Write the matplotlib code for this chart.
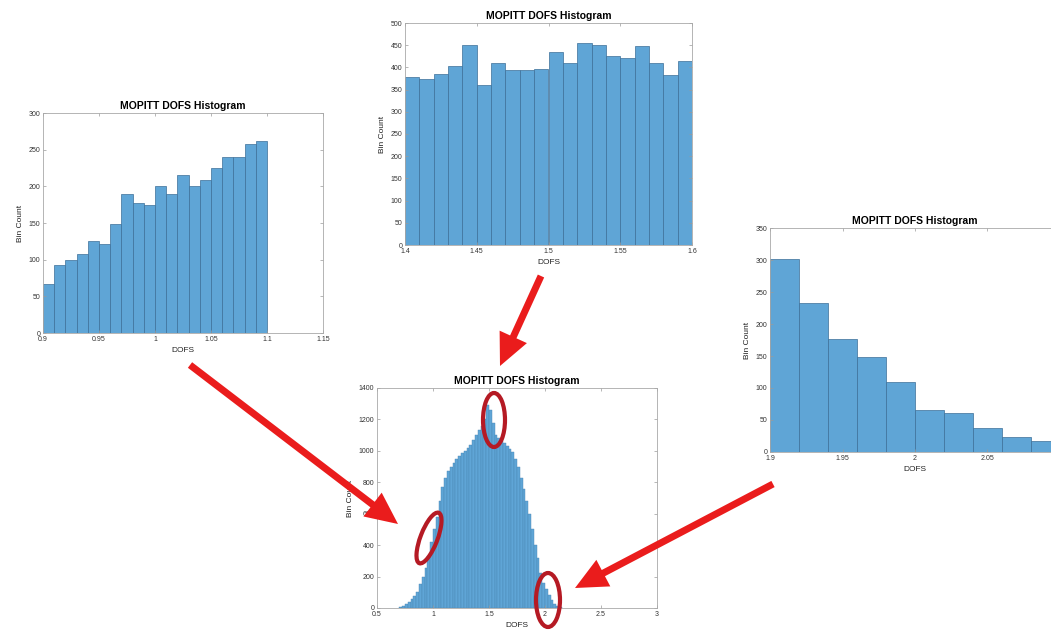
import numpy as np
import matplotlib
matplotlib.use("Agg")
from matplotlib import pyplot as plt
from matplotlib.patches import FancyArrow, Ellipse
from matplotlib.ticker import FuncFormatter

plt.rcParams['font.family'] = ['Liberation Sans', 'DejaVu Sans']

# zoom on the low end, 0.01 bins from 0.9
low_start = 0.9
low_width = 0.01
low_counts = [67, 93, 100, 108, 126, 122, 148, 190, 177, 175,
              200, 190, 216, 200, 209, 225, 240, 240, 258, 262]

# zoom on the peak, 0.01 bins from 1.4
mid_start = 1.4
mid_width = 0.01
mid_counts = [378, 373, 385, 403, 451, 361, 411, 394, 394, 397,
              435, 409, 454, 450, 425, 422, 448, 411, 382, 415]

# zoom on the high tail, 0.02 bins from 1.9
high_start = 1.9
high_width = 0.02
high_counts = [302, 233, 177, 149, 109, 65, 61, 38, 23, 17]

# full distribution, 0.025 bins from 0.7
all_start = 0.7
all_width = 0.025
all_counts = [5, 15, 25, 40, 55, 75, 105, 150, 200, 255,
              330, 420, 500, 580, 680, 770, 830, 870, 900, 925,
              950, 965, 985, 1000, 1020, 1040, 1070, 1100, 1130, 1160,
              1200, 1290, 1260, 1180, 1100, 1080, 1065, 1050, 1030, 1010,
              990, 950, 900, 830, 760, 680, 600, 500, 400, 320,
              220, 160, 120, 85, 50, 25, 12, 5]

# callouts in pixel space (x, y from top-left)
arrows = [((190, 365), (398, 524)),
          ((541, 276), (500, 366)),
          ((773, 484), (575, 588))]
circles = [((494, 420), 22, 54, 0),
           ((429, 538), 17, 54, 21),
           ((548, 600), 24, 54, 0)]

bar_color = '#5fa5d6'
edge_color = '#3c6f98'
title_txt = 'MOPITT DOFS Histogram'

W, H = 1051, 635
fig = plt.figure(figsize=(W / 100, H / 100), dpi=100)


def fmt(v, pos):
    return '%g' % round(v, 4)


def hist_panel(rect, start, width, counts, xlim, xticks, ylim, yticks,
               ec=edge_color, elw=0.5):
    ax = fig.add_axes(rect)
    edges = start + width * np.arange(len(counts))
    ax.bar(edges, counts, width=width, align='edge', color=bar_color,
           edgecolor=ec, linewidth=elw)
    ax.set_xlim(xlim)
    ax.set_ylim(ylim)
    ax.set_xticks(xticks)
    ax.set_yticks(yticks)
    ax.xaxis.set_major_formatter(FuncFormatter(fmt))
    ax.yaxis.set_major_formatter(FuncFormatter(fmt))
    ax.tick_params(direction='in', length=2.5, width=0.5, labelsize=5,
                   colors='#9a9a9a', labelcolor='#333333', pad=2,
                   top=True, right=True)
    for s in ax.spines.values():
        s.set_color('#a8a8a8')
        s.set_linewidth(0.6)
    ax.set_title(title_txt, fontsize=7.5, fontweight='bold', pad=3)
    ax.set_xlabel('DOFS', fontsize=6, labelpad=3, color='#222222')
    ax.set_ylabel('Bin Count', fontsize=6, labelpad=3, color='#222222')
    return ax


def px_rect(left, top, right, bottom):
    return [left / W, 1 - bottom / H, (right - left) / W, (bottom - top) / H]


hist_panel(px_rect(43, 113, 323, 333), low_start, low_width, low_counts,
           (0.9, 1.15), np.arange(0.9, 1.151, 0.05), (0, 300), range(0, 301, 50))
hist_panel(px_rect(405, 23, 692, 245), mid_start, mid_width, mid_counts,
           (1.4, 1.6), np.arange(1.4, 1.601, 0.05), (0, 500), range(0, 501, 50))
hist_panel(px_rect(770, 228, 1060, 452), high_start, high_width, high_counts,
           (1.9, 2.1), np.arange(1.9, 2.101, 0.05), (0, 350), range(0, 351, 50))
# full histogram: narrow bins, so keep the bar outlines faint
hist_panel(px_rect(377, 388, 657, 608), all_start, all_width, all_counts,
           (0.5, 3), np.arange(0.5, 3.01, 0.5), (0, 1400), range(0, 1401, 200),
           ec='#4a86b4', elw=0.3)

# overlay for the red callouts
ov = fig.add_axes([0, 0, 1, 1], zorder=10)
ov.set_xlim(0, W)
ov.set_ylim(H, 0)
ov.patch.set_alpha(0)
ov.axis('off')

for (x0, y0), (x1, y1) in arrows:
    ov.add_patch(FancyArrow(x0, y0, x1 - x0, y1 - y0, width=7, head_width=30,
                            head_length=32, length_includes_head=True,
                            color='#ea1c1c', lw=0))

for (cx, cy), w, h, ang in circles:
    ov.add_patch(Ellipse((cx, cy), w, h, angle=ang, fill=False,
                         edgecolor='#b51a24', linewidth=3))

fig.savefig('out.png', dpi=100)
